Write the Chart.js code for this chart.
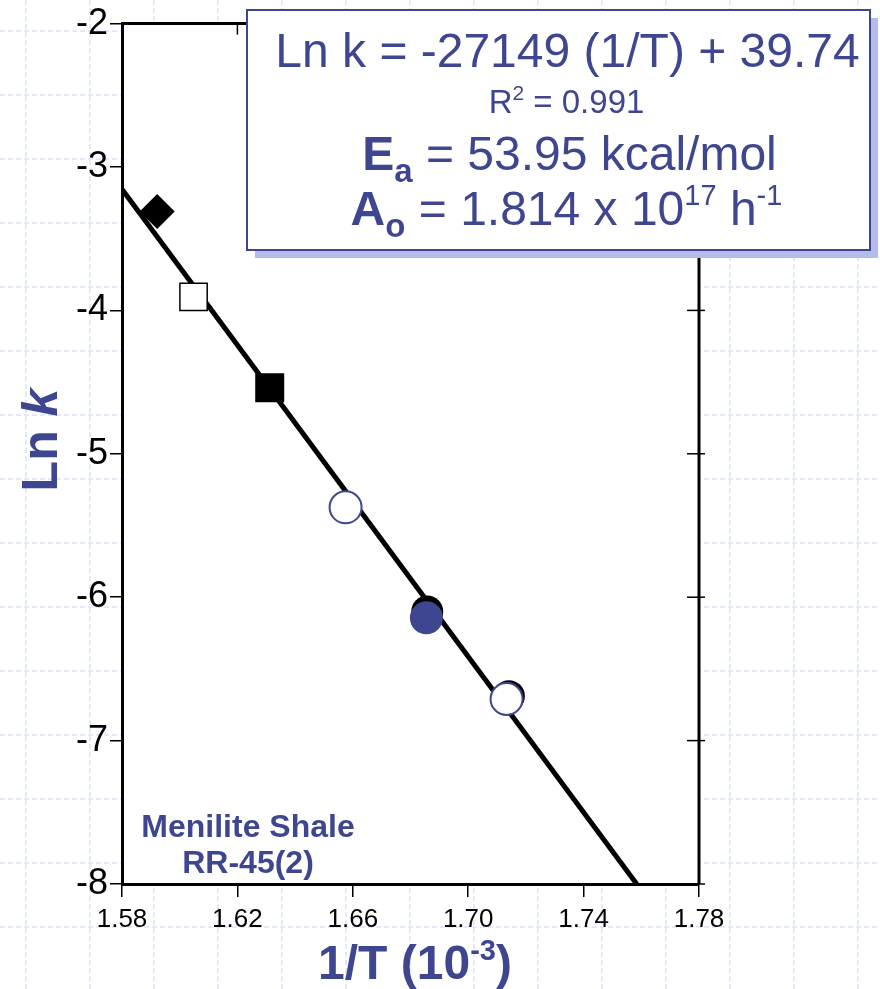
<!DOCTYPE html>
<html>
<head>
<meta charset="utf-8">
<script src="https://cdn.jsdelivr.net/npm/chart.js@4.4.0/dist/chart.umd.min.js"></script>
<style>
  html, body { margin: 0; padding: 0; background: #fff; }
  canvas { display: block; }
</style>
</head>
<body>
<canvas id="chart" width="880" height="989"></canvas>
<script>
const FONT = "'Liberation Sans', Arial, sans-serif";
const navy = '#3F4690';

// axis ticks
const xTicks = [1.58, 1.62, 1.66, 1.70, 1.74, 1.78];
const yTicks = [-8, -7, -6, -5, -4, -3, -2];

// regression line end points (Ln k = -27149 (1/T) + 39.74)
const fitX = [1.58, 1.7584];
const fitY = [-3.155, -8.0];

// measured points, one array pair per marker type
const diamondX = [1.5922];
const diamondY = [-3.31];
const openSquareX = [1.6048];
const openSquareY = [-3.905];
const filledSquareX = [1.6312];
const filledSquareY = [-4.54];
const openCircleX = [1.6575, 1.7133];
const openCircleY = [-5.373, -6.71];
const navyCircleX = [1.6855];
const navyCircleY = [-6.144];
const blackCircleX = [1.6858, 1.7141];
const blackCircleY = [-6.10, -6.69];

const pts = (xs, ys) => xs.map((x, i) => ({x: x, y: ys[i]}));

// rich text: runs of {t, font, dy}, centred on cx
function richLine(ctx, runs, cx, base) {
  let w = 0;
  runs.forEach(r => { ctx.font = r.font; r.w = ctx.measureText(r.t).width; w += r.w; });
  let x = cx - w / 2;
  ctx.textAlign = 'left';
  ctx.textBaseline = 'alphabetic';
  runs.forEach(r => {
    ctx.font = r.font;
    ctx.fillText(r.t, x, base + (r.dy || 0));
    x += r.w;
  });
}
const f = (size, bold, italic) => (italic ? 'italic ' : '') + (bold ? 'bold ' : '') + size + 'px ' + FONT;

// slide background with dashed lavender grid, white plot area
const pageGrid = {
  id: 'pageGrid',
  beforeDraw(chart) {
    const {ctx, chartArea: a, width, height} = chart;
    ctx.save();
    ctx.fillStyle = '#fff';
    ctx.fillRect(0, 0, width, height);
    ctx.strokeStyle = '#DCE2F7';
    ctx.lineWidth = 1.5;
    ctx.setLineDash([5, 3]);
    for (let x = 26; x < width; x += 64) {
      ctx.beginPath(); ctx.moveTo(x, 0); ctx.lineTo(x, height); ctx.stroke();
    }
    for (let y = 31; y < height; y += 64) {
      ctx.beginPath(); ctx.moveTo(0, y); ctx.lineTo(width, y); ctx.stroke();
    }
    ctx.setLineDash([]);
    ctx.fillStyle = '#fff';
    ctx.fillRect(a.left, a.top, a.right - a.left, a.bottom - a.top);
    ctx.restore();
  }
};

// top and right frame with their ticks
const frame = {
  id: 'frame',
  beforeDatasetsDraw(chart) {
    const {ctx, chartArea: a, scales} = chart;
    ctx.save();
    ctx.strokeStyle = '#000';
    ctx.lineWidth = 3;
    ctx.beginPath();
    ctx.moveTo(a.left, a.top); ctx.lineTo(a.right, a.top); ctx.lineTo(a.right, a.bottom);
    ctx.stroke();
    ctx.lineWidth = 1.5;
    xTicks.forEach(v => {
      const x = scales.x.getPixelForValue(v);
      ctx.beginPath(); ctx.moveTo(x, a.top); ctx.lineTo(x, a.top + 11); ctx.stroke();
    });
    yTicks.forEach(v => {
      const y = scales.y.getPixelForValue(v);
      ctx.beginPath(); ctx.moveTo(a.right - 12, y); ctx.lineTo(a.right + 6, y); ctx.stroke();
    });
    ctx.restore();
  }
};

// axis titles, sample label and equation box
const notes = {
  id: 'notes',
  afterDraw(chart) {
    const {ctx} = chart;
    ctx.save();
    ctx.fillStyle = navy;

    // y title
    ctx.save();
    ctx.translate(57, 440);
    ctx.rotate(-Math.PI / 2);
    richLine(ctx, [{t: 'Ln ', font: f(50, true)}, {t: 'k', font: f(50, true, true)}], 0, 0);
    ctx.restore();

    // x title
    richLine(ctx, [
      {t: '1/T (10', font: f(48, true)},
      {t: '-3', font: f(29, true), dy: -19},
      {t: ')', font: f(48, true)}
    ], 415, 979);

    // sample name
    richLine(ctx, [{t: 'Menilite Shale', font: f(32, true)}], 248, 837);
    richLine(ctx, [{t: 'RR-45(2)', font: f(32, true)}], 248, 873);

    // equation box with shadow
    const bx = 247, by = 10, bw = 623, bh = 240;
    ctx.fillStyle = '#B4BDEA';
    ctx.fillRect(bx + 8, by + 8, bw, bh);
    ctx.fillStyle = '#fff';
    ctx.fillRect(bx, by, bw, bh);
    ctx.strokeStyle = navy;
    ctx.lineWidth = 2;
    ctx.strokeRect(bx, by, bw, bh);

    const cx = bx + bw / 2 + 9;
    ctx.fillStyle = navy;
    richLine(ctx, [{t: 'Ln k = -27149 (1/T) + 39.74', font: f(48)}], cx, 67);
    richLine(ctx, [
      {t: 'R', font: f(33)},
      {t: '2', font: f(21), dy: -13},
      {t: ' = 0.991', font: f(33)}
    ], cx - 1, 113);
    richLine(ctx, [
      {t: 'E', font: f(48, true)},
      {t: 'a', font: f(33, true), dy: 12},
      {t: ' = 53.95 kcal/mol', font: f(48)}
    ], cx + 2, 170);
    richLine(ctx, [
      {t: 'A', font: f(48, true)},
      {t: 'o', font: f(33, true), dy: 12},
      {t: ' = 1.814 x 10', font: f(48)},
      {t: '17', font: f(29), dy: -20},
      {t: ' h', font: f(48)},
      {t: '-1', font: f(29), dy: -20}
    ], cx - 1, 225);
    ctx.restore();
  }
};

const marker = (label, data, style, radius, fill, border, bw, order) => ({
  type: 'scatter',
  label: label,
  data: data,
  pointStyle: style,
  pointRadius: radius,
  pointHoverRadius: radius,
  pointBackgroundColor: fill,
  pointBorderColor: border,
  pointBorderWidth: bw,
  showLine: false,
  order: order
});

new Chart(document.getElementById('chart'), {
  type: 'scatter',
  data: {
    datasets: [
      marker('open circles', pts(openCircleX, openCircleY), 'circle', 16, '#fff', navy, 2, 0),
      marker('navy circle', pts(navyCircleX, navyCircleY), 'circle', 16.5, navy, navy, 0, 1),
      marker('black circles', pts(blackCircleX, blackCircleY), 'circle', 16, '#000', '#000', 0, 2),
      marker('filled square', pts(filledSquareX, filledSquareY), 'rect', 20.5, '#000', '#000', 0, 0),
      marker('open square', pts(openSquareX, openSquareY), 'rect', 19.3, '#fff', '#000', 1.5, 0),
      marker('diamond', pts(diamondX, diamondY), 'rectRot', 17.5, '#000', '#000', 0, 0),
      {
        type: 'line',
        label: 'fit',
        data: pts(fitX, fitY),
        borderColor: '#000',
        borderWidth: 5,
        pointRadius: 0,
        fill: false,
        tension: 0,
        order: 10
      }
    ]
  },
  options: {
    responsive: false,
    animation: false,
    events: [],
    layout: { padding: { top: 20, right: 181, left: 0, bottom: 0 } },
    plugins: {
      legend: { display: false },
      tooltip: { enabled: false },
      title: { display: false }
    },
    scales: {
      x: {
        type: 'linear',
        min: 1.58,
        max: 1.78,
        afterBuildTicks: s => { s.ticks = xTicks.map(v => ({value: v})); },
        afterFit: s => { s.height = 105; },
        ticks: {
          callback: v => v.toFixed(2),
          font: { family: FONT, size: 26 },
          color: '#000',
          padding: 7,
          maxRotation: 0,
          autoSkip: false
        },
        grid: { display: true, drawOnChartArea: false, drawTicks: true, tickLength: 13, color: '#000', lineWidth: 1.5 },
        border: { display: true, color: '#000', width: 3 },
        title: { display: false }
      },
      y: {
        type: 'linear',
        min: -8,
        max: -2,
        afterBuildTicks: s => { s.ticks = yTicks.map(v => ({value: v})); },
        afterFit: s => { s.width = 122; },
        ticks: {
          callback: v => String(v),
          font: { family: FONT, size: 36 },
          color: '#000',
          padding: 2,
          autoSkip: false
        },
        grid: { display: true, drawOnChartArea: false, drawTicks: true, tickLength: 12, color: '#000', lineWidth: 1.5 },
        border: { display: true, color: '#000', width: 3 },
        title: { display: false }
      }
    }
  },
  plugins: [pageGrid, frame, notes]
});
</script>
</body>
</html>
